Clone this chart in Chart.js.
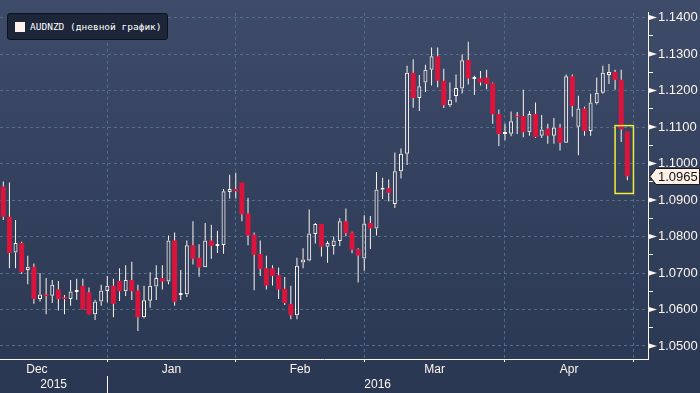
<!DOCTYPE html>
<html>
<head>
<meta charset="utf-8">
<script src="https://cdn.jsdelivr.net/npm/chart.js@4.4.0/dist/chart.umd.min.js"></script>
<style>
	html, body { margin: 0; padding: 0; }
	body { width: 700px; height: 393px; overflow: hidden; background: linear-gradient(#3e4b69, #2a3752); }
	#wrap { position: relative; width: 700px; height: 393px; }
	#legend {
		position: absolute; left: 7px; top: 13px; width: 161px; height: 27px; box-sizing: border-box;
		background: #1d2639; border: 1px solid #0b111d; border-radius: 3px;
		font: 9.5px 'DejaVu Sans Mono', monospace; color: #fff;
		display: flex; align-items: center; padding-left: 7px; white-space: nowrap;
	}
	#legend i { width: 10px; height: 10px; background: #fff2ec; margin-right: 5px; display: inline-block; }
</style>
</head>
<body>
<div id="wrap">
	<canvas id="myChart" width="700" height="393"></canvas>
	<div id="legend"><i></i>AUDNZD (дневной график)</div>
</div>
<script>
// daily AUDNZD candles, 9 Dec 2015 .. end of Apr 2016 (one entry per trading day)
const OPEN = [
	1.0937, 1.0854, 1.0756, 1.0782, 1.0708, 1.0717, 1.0629, 1.0641, 1.0638, 1.0655,
	1.0633, 1.0629, 1.0648, 1.0665, 1.0647, 1.0587, 1.0622, 1.0651, 1.0665, 1.0678,
	1.0650, 1.0681, 1.0652, 1.0579, 1.0624, 1.0663, 1.0686, 1.0677, 1.0789, 1.0640,
	1.0642, 1.0776, 1.0742, 1.0716, 1.0789, 1.0774, 1.0777, 1.0922, 1.0930, 1.0948,
	1.0863, 1.0805, 1.0752, 1.0713, 1.0713, 1.0694, 1.0657, 1.0615, 1.0584, 1.0729,
	1.0734, 1.0807, 1.0834, 1.0772, 1.0774, 1.0788, 1.0842, 1.0811, 1.0765, 1.0740,
	1.0837, 1.0822, 1.0928, 1.0932, 1.0889, 1.0979, 1.1027, 1.1249, 1.1180, 1.1222,
	1.1257, 1.1294, 1.1227, 1.1160, 1.1185, 1.1206, 1.1284, 1.1232, 1.1234, 1.1236,
	1.1220, 1.1136, 1.1081, 1.1082, 1.1130, 1.1130, 1.1086, 1.1136, 1.1076, 1.1096,
	1.1076, 1.1099, 1.1057, 1.1239, 1.1101, 1.1151, 1.1089, 1.1165, 1.1194, 1.1243,
	1.1251, 1.1230, 1.1088
];
const HIGH = [
	1.0951, 1.0948, 1.0845, 1.0786, 1.0747, 1.0726, 1.0700, 1.0686, 1.0681, 1.0678,
	1.0640, 1.0681, 1.0684, 1.0684, 1.0660, 1.0627, 1.0668, 1.0692, 1.0684, 1.0713,
	1.0721, 1.0731, 1.0668, 1.0665, 1.0702, 1.0721, 1.0721, 1.0803, 1.0811, 1.0708,
	1.0789, 1.0842, 1.0779, 1.0837, 1.0832, 1.0816, 1.0930, 1.0969, 1.0975, 1.0948,
	1.0906, 1.0811, 1.0789, 1.0747, 1.0721, 1.0715, 1.0689, 1.0665, 1.0742, 1.0768,
	1.0874, 1.0837, 1.0834, 1.0788, 1.0800, 1.0850, 1.0877, 1.0813, 1.0768, 1.0858,
	1.0856, 1.0977, 1.0961, 1.0956, 1.1030, 1.1041, 1.1268, 1.1286, 1.1243, 1.1271,
	1.1318, 1.1318, 1.1260, 1.1222, 1.1244, 1.1299, 1.1334, 1.1241, 1.1254, 1.1257,
	1.1222, 1.1148, 1.1109, 1.1143, 1.1141, 1.1202, 1.1144, 1.1167, 1.1133, 1.1109,
	1.1125, 1.1109, 1.1244, 1.1244, 1.1186, 1.1156, 1.1191, 1.1236, 1.1268, 1.1273,
	1.1257, 1.1257, 1.1088
];
const LOW = [
	1.0845, 1.0713, 1.0713, 1.0697, 1.0669, 1.0616, 1.0622, 1.0587, 1.0618, 1.0597,
	1.0587, 1.0610, 1.0627, 1.0600, 1.0586, 1.0571, 1.0610, 1.0620, 1.0579, 1.0623,
	1.0637, 1.0626, 1.0541, 1.0576, 1.0605, 1.0626, 1.0655, 1.0669, 1.0610, 1.0626,
	1.0634, 1.0723, 1.0690, 1.0716, 1.0739, 1.0755, 1.0753, 1.0904, 1.0904, 1.0842,
	1.0776, 1.0653, 1.0692, 1.0655, 1.0666, 1.0629, 1.0612, 1.0573, 1.0573, 1.0713,
	1.0732, 1.0781, 1.0745, 1.0728, 1.0751, 1.0774, 1.0801, 1.0754, 1.0674, 1.0706,
	1.0766, 1.0803, 1.0903, 1.0896, 1.0878, 1.0959, 1.0996, 1.1153, 1.1144, 1.1196,
	1.1214, 1.1209, 1.1152, 1.1155, 1.1168, 1.1192, 1.1217, 1.1188, 1.1214, 1.1204,
	1.1109, 1.1048, 1.1064, 1.1075, 1.1081, 1.1072, 1.1076, 1.1070, 1.1070, 1.1054,
	1.1054, 1.1036, 1.1057, 1.1128, 1.1023, 1.1076, 1.1076, 1.1162, 1.1191, 1.1218,
	1.1202, 1.1059, 1.0954
];
const CLOSE = [
	1.0854, 1.0755, 1.0782, 1.0702, 1.0717, 1.0629, 1.0641, 1.0637, 1.0668, 1.0629,
	1.0629, 1.0649, 1.0652, 1.0601, 1.0587, 1.0622, 1.0652, 1.0665, 1.0616, 1.0650,
	1.0681, 1.0650, 1.0579, 1.0625, 1.0665, 1.0686, 1.0677, 1.0789, 1.0621, 1.0645,
	1.0776, 1.0739, 1.0715, 1.0789, 1.0774, 1.0779, 1.0924, 1.0930, 1.0924, 1.0861,
	1.0803, 1.0750, 1.0711, 1.0666, 1.0692, 1.0655, 1.0618, 1.0584, 1.0720, 1.0737,
	1.0808, 1.0834, 1.0772, 1.0782, 1.0789, 1.0842, 1.0809, 1.0764, 1.0748, 1.0836,
	1.0822, 1.0929, 1.0932, 1.0920, 1.0979, 1.1027, 1.1249, 1.1180, 1.1212, 1.1257,
	1.1294, 1.1227, 1.1160, 1.1175, 1.1207, 1.1283, 1.1233, 1.1234, 1.1222, 1.1218,
	1.1135, 1.1081, 1.1083, 1.1116, 1.1128, 1.1086, 1.1136, 1.1073, 1.1093, 1.1076,
	1.1099, 1.1057, 1.1239, 1.1158, 1.1151, 1.1089, 1.1167, 1.1194, 1.1249, 1.1251,
	1.1230, 1.1093, 1.0965
];

const MONTHS = ['Dec', 'Jan', 'Feb', 'Mar', 'Apr'];
const MONTH_STARTS = [-6, 17, 38, 59, 82, 103]; // bar index of each month's first trading day
const YEARS = ['2015', '2016'];
const YEAR_START = 17;
const PRICE_TICKS = [1.05, 1.06, 1.07, 1.08, 1.09, 1.10, 1.11, 1.12, 1.13, 1.14];

const X_MIN = -0.54, X_MAX = 105.38;
const Y_MIN = 1.04643, Y_MAX = 1.14132;
const HIGHLIGHT = { from: 100, to: 103, lo: 1.0918, hi: 1.1104 };

const RED = '#dc143c';
const WHITE = '#fdf5ee';
const GRID = '#4f6f88';
const FONT = '"Liberation Sans", Arial, sans-serif';

const idx = OPEN.map((_, i) => i);
const isUp = i => CLOSE[i] >= OPEN[i];
const top_ = i => Math.max(OPEN[i], CLOSE[i]);
const bot_ = i => Math.min(OPEN[i], CLOSE[i]);

// month labels sit mid-month, grid lines on month starts
const monthLabels = new Map();
MONTHS.forEach((m, k) => monthLabels.set((MONTH_STARTS[k] + MONTH_STARTS[k + 1]) / 2, m));
const monthLines = MONTH_STARTS.filter(v => v > X_MIN && v < X_MAX);
const X_TICKS = [...monthLabels.keys(), ...monthLines].sort((a, b) => a - b);

const yearLabels = new Map([[(X_MIN + YEAR_START) / 2, YEARS[0]], [(YEAR_START + X_MAX) / 2, YEARS[1]]]);
const X2_TICKS = [...yearLabels.keys(), YEAR_START].sort((a, b) => a - b);

const Y_TICKS = [];
PRICE_TICKS.forEach((v, k) => {
	Y_TICKS.push(v);
	if (k < PRICE_TICKS.length - 1) Y_TICKS.push((v + PRICE_TICKS[k + 1]) / 2);
});

const common = { grouped: false, borderSkipped: false, inflateAmount: 0 };

const datasets = [
	{ ...common, data: idx.map(i => ({ x: i, y: [top_(i), HIGH[i]] })), backgroundColor: WHITE, barThickness: 1 },
	{ ...common, data: idx.map(i => ({ x: i, y: [LOW[i], bot_(i)] })), backgroundColor: WHITE, barThickness: 1 },
	{ ...common, data: idx.map(i => ({ x: i, y: isUp(i) ? null : [CLOSE[i], OPEN[i]] })), backgroundColor: RED, barThickness: 5, minBarLength: 2 },
	{ ...common, data: idx.map(i => ({ x: i, y: isUp(i) ? [OPEN[i], CLOSE[i]] : null })), backgroundColor: 'transparent', borderColor: WHITE, borderWidth: 1, barThickness: 4, minBarLength: 2 },
];

const decor = {
	id: 'decor',
	afterDraw(chart) {
		const { ctx, scales: { x, y }, chartArea } = chart;
		ctx.save();
		// flag markers on the price axis
		ctx.fillStyle = WHITE;
		PRICE_TICKS.forEach(v => {
			const py = y.getPixelForValue(v);
			ctx.beginPath();
			ctx.moveTo(chartArea.right + 1, py - 2.5);
			ctx.lineTo(chartArea.right + 9, py);
			ctx.lineTo(chartArea.right + 1, py + 2.5);
			ctx.fill();
		});
		// highlight box around the last sessions
		const hx0 = x.getPixelForValue(HIGHLIGHT.from), hx1 = x.getPixelForValue(HIGHLIGHT.to);
		const hy0 = y.getPixelForValue(HIGHLIGHT.hi), hy1 = y.getPixelForValue(HIGHLIGHT.lo);
		ctx.strokeStyle = '#eeee3a';
		ctx.lineWidth = 1.5;
		ctx.strokeRect(hx0, hy0, hx1 - hx0, hy1 - hy0);
		// last price tag
		const last = CLOSE[CLOSE.length - 1];
		const py = Math.round(y.getPixelForValue(last)) + 0.5;
		const lx = chartArea.right + 2;
		ctx.beginPath();
		ctx.moveTo(lx, py);
		ctx.lineTo(lx + 6, py - 8);
		ctx.lineTo(699.5, py - 8);
		ctx.lineTo(699.5, py + 8);
		ctx.lineTo(lx + 6, py + 8);
		ctx.closePath();
		ctx.fillStyle = '#fdf1e7';
		ctx.fill();
		ctx.strokeStyle = '#1a1a1a';
		ctx.lineWidth = 1;
		ctx.stroke();
		ctx.fillStyle = '#111';
		ctx.font = `13px ${FONT}`;
		ctx.textBaseline = 'middle';
		ctx.fillText(last.toFixed(4), lx + 8, py + 1);
		ctx.restore();
	}
};

new Chart(document.getElementById('myChart'), {
	type: 'bar',
	data: { datasets },
	plugins: [decor],
	options: {
		responsive: false,
		animation: false,
		events: [],
		layout: { padding: 0 },
		plugins: { legend: { display: false }, tooltip: { enabled: false } },
		scales: {
			x: {
				type: 'linear', min: X_MIN, max: X_MAX, offset: false, weight: 0,
				afterBuildTicks: s => { s.ticks = X_TICKS.map(value => ({ value })) },
				afterFit: s => { s.height = 17 },
				grid: {
					offset: false,
					color: c => c.tick && monthLines.includes(c.tick.value) ? GRID : 'transparent',
					tickColor: c => c.tick && monthLines.includes(c.tick.value) ? WHITE : 'transparent',
					tickLength: 3
				},
				border: { color: WHITE, width: 1, dash: [3, 3] },
				ticks: {
					autoSkip: false, maxRotation: 0, padding: 0, color: WHITE,
					font: { family: FONT, size: 12 },
					callback: v => monthLabels.get(v) || ''
				}
			},
			x2: {
				type: 'linear', axis: 'x', position: 'bottom', min: X_MIN, max: X_MAX, offset: false, weight: 1,
				afterBuildTicks: s => { s.ticks = X2_TICKS.map(value => ({ value })) },
				afterFit: s => { s.height = 17 },
				grid: {
					drawOnChartArea: false, offset: false,
					color: c => c.tick && c.tick.value === YEAR_START ? WHITE : 'transparent',
					tickLength: 17
				},
				border: { display: false },
				ticks: {
					autoSkip: false, maxRotation: 0, padding: -16, color: WHITE,
					font: { family: FONT, size: 12 },
					callback: v => yearLabels.get(v) || ''
				}
			},
			y: {
				position: 'right', min: Y_MIN, max: Y_MAX,
				afterBuildTicks: s => { s.ticks = Y_TICKS.map(value => ({ value })) },
				afterFit: s => { s.width = 52 },
				grid: {
					color: c => c.tick && PRICE_TICKS.includes(c.tick.value) ? GRID : 'transparent',
					tickColor: c => c.tick && PRICE_TICKS.includes(c.tick.value) ? 'transparent' : WHITE,
					tickLength: 5
				},
				border: { color: WHITE, width: 1, dash: [3, 3] },
				ticks: {
					padding: 5, color: WHITE,
					font: { family: FONT, size: 13 },
					callback: v => PRICE_TICKS.includes(v) ? v.toFixed(4) : ''
				}
			}
		}
	}
});
</script>
</body>
</html>
